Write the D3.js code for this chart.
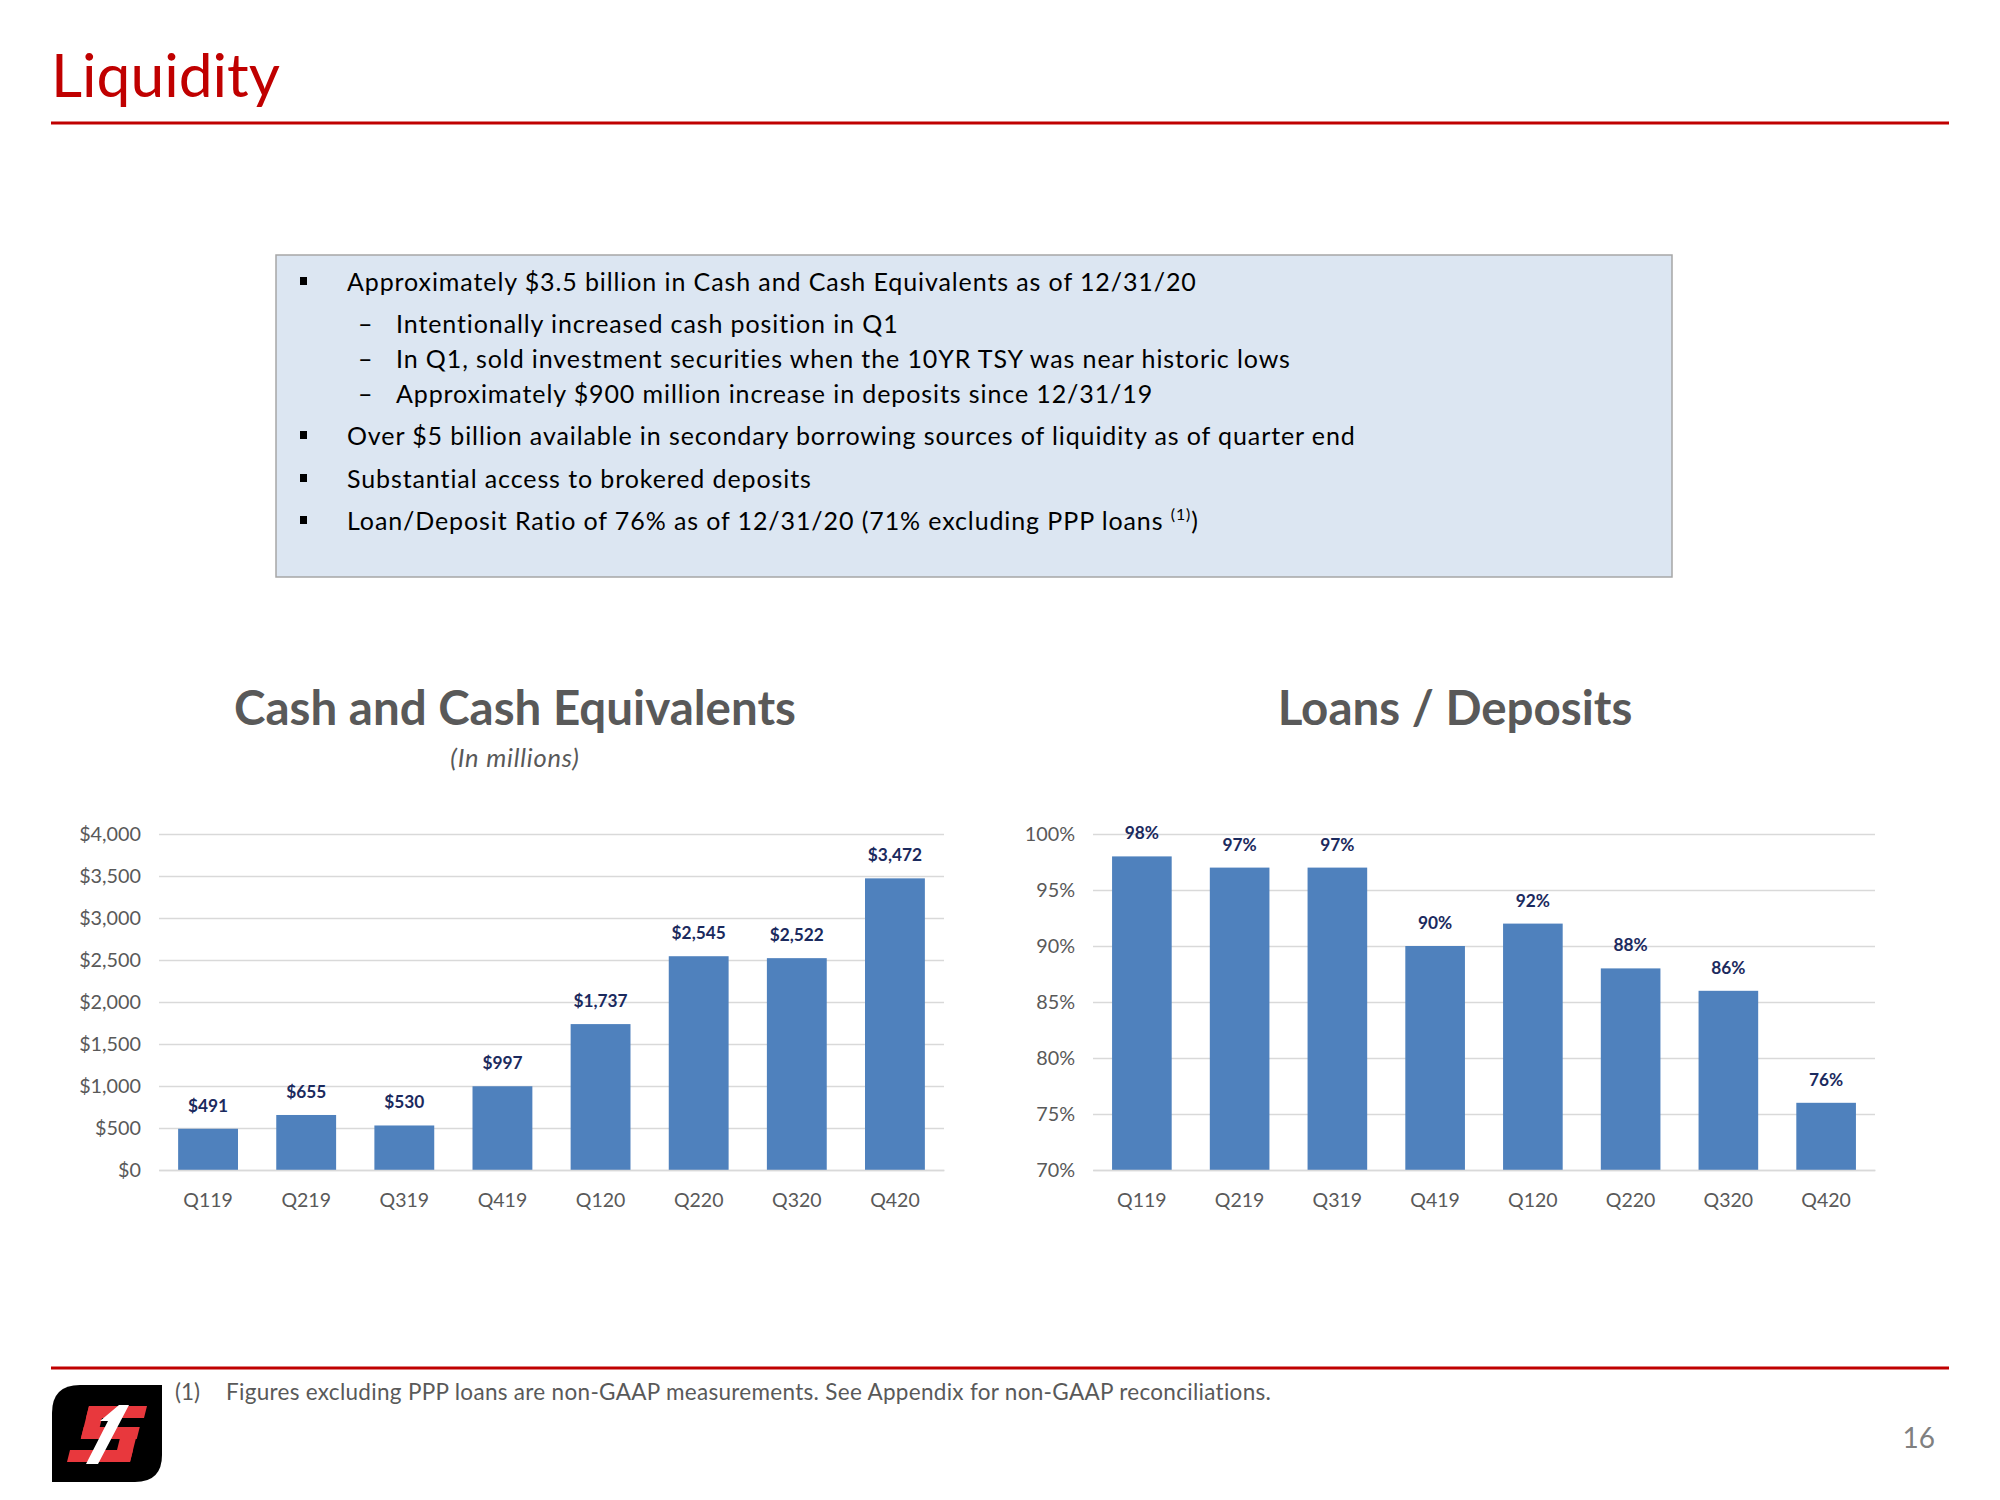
<!DOCTYPE html>
<html>
<head>
<meta charset="utf-8">
<script src="https://cdn.jsdelivr.net/npm/d3@7"></script>
<style>
  html, body { margin: 0; padding: 0; background: #ffffff; }
  svg { display: block; }
  text { font-family: Lato, "Open Sans", sans-serif; }
</style>
</head>
<body>
<svg id="chart" width="2000" height="1500"></svg>
<script>
// ---------- data ----------
const categories = ["Q119", "Q219", "Q319", "Q419", "Q120", "Q220", "Q320", "Q420"];
const cashValues = [491, 655, 530, 997, 1737, 2545, 2522, 3472];
const ratioValues = [98, 97, 97, 90, 92, 88, 86, 76];
const cashTicks = [0, 500, 1000, 1500, 2000, 2500, 3000, 3500, 4000];
const ratioTicks = [70, 75, 80, 85, 90, 95, 100];
const bullets = [
  { level: 0, text: "Approximately $3.5 billion in Cash and Cash Equivalents as of 12/31/20" },
  { level: 1, text: "Intentionally increased cash position in Q1" },
  { level: 1, text: "In Q1, sold investment securities when the 10YR TSY was near historic lows" },
  { level: 1, text: "Approximately $900 million increase in deposits since 12/31/19" },
  { level: 0, text: "Over $5 billion available in secondary borrowing sources of liquidity as of quarter end" },
  { level: 0, text: "Substantial access to brokered deposits" },
  { level: 0, text: "Loan/Deposit Ratio of 76% as of 12/31/20 (71% excluding PPP loans ", sup: "(1)", tail: ")" }
];
const footnote = "Figures excluding PPP loans are non-GAAP measurements. See Appendix for non-GAAP reconciliations.";

// ---------- styles ----------
const RED = "#C00000";
const BAR = "#4F81BD";
const GRID = "#D9D9D9";
const AXIS_TXT = "#595959";
const LABEL = "#1B2A5E";

const svg = d3.select("#chart");

// ---------- header ----------
svg.append("text").attr("x", 51).attr("y", 97)
  .attr("fill", RED).attr("font-size", 60.5).text("Liquidity");
svg.append("line").attr("x1", 51).attr("x2", 1949).attr("y1", 123).attr("y2", 123)
  .attr("stroke", RED).attr("stroke-width", 3);

// ---------- bullet box ----------
svg.append("rect").attr("x", 276).attr("y", 255).attr("width", 1396).attr("height", 322)
  .attr("fill", "#DCE6F2").attr("stroke", "#A6A6A6").attr("stroke-width", 1.5);

const bulletY = [291, 333, 368, 403, 445, 488, 530];
bullets.forEach((b, i) => {
  const y = bulletY[i];
  if (b.level === 0) {
    svg.append("rect").attr("x", 300).attr("y", y - 14).attr("width", 7).attr("height", 8).attr("fill", "#000");
  } else {
    svg.append("text").attr("x", 358).attr("y", y).attr("font-size", 25).attr("fill", "#000").text("\u2013");
  }
  const t = svg.append("text").attr("x", b.level === 0 ? 347 : 396).attr("y", y)
    .attr("font-size", 25).attr("letter-spacing", 0.9).attr("fill", "#000").text(b.text);
  if (b.sup) {
    t.append("tspan").attr("font-size", 16).attr("dy", -10).text(b.sup);
    t.append("tspan").attr("dy", 10).text(b.tail);
  }
});

// ---------- chart helper ----------
function drawChart(opts) {
  const x = d3.scaleBand().domain(categories).range([opts.x0, opts.x1])
    .paddingInner(0.39).paddingOuter(0.195);
  const y = d3.scaleLinear().domain(opts.domain).range([1170, 834]);
  const g = svg.append("g");

  // gridlines
  const yAxis = d3.axisLeft(y).tickValues(opts.ticks).tickSize(-(opts.x1 - opts.x0)).tickFormat(opts.tickFmt).tickPadding(18);
  const ya = g.append("g").attr("transform", `translate(${opts.x0},0)`).call(yAxis);
  ya.select(".domain").remove();
  ya.selectAll(".tick line").attr("stroke", GRID).attr("stroke-width", 1.6);
  ya.selectAll(".tick text").attr("fill", AXIS_TXT).attr("font-size", 19.8).attr("font-family", "Lato, sans-serif");

  // bars
  g.selectAll("rect.bar").data(opts.values).join("rect").attr("class", "bar")
    .attr("x", (d, i) => x(categories[i]))
    .attr("width", x.bandwidth())
    .attr("y", d => y(d))
    .attr("height", d => y(opts.domain[0]) - y(d))
    .attr("fill", BAR);

  // value labels
  g.selectAll("text.val").data(opts.values).join("text").attr("class", "val")
    .attr("x", (d, i) => x(categories[i]) + x.bandwidth() / 2)
    .attr("y", d => y(d) - 17)
    .attr("text-anchor", "middle").attr("font-weight", 700).attr("font-size", 17.3)
    .attr("fill", LABEL).text(opts.labelFmt);

  // x axis
  const xAxis = d3.axisBottom(x).tickSize(0).tickPadding(23);
  const xa = g.append("g").attr("transform", "translate(0,1170)").call(xAxis);
  xa.select(".domain").attr("stroke", GRID).attr("stroke-width", 1.6);
  xa.selectAll(".tick text").attr("fill", AXIS_TXT).attr("font-size", 19.5).attr("font-family", "Lato, sans-serif");

  // title
  svg.append("text").attr("x", opts.titleX).attr("y", 725).attr("text-anchor", "middle")
    .attr("font-weight", 700).attr("font-size", 47.5).attr("fill", "#595959").text(opts.title);
  if (opts.subtitle) {
    svg.append("text").attr("x", opts.titleX).attr("y", 767).attr("text-anchor", "middle")
      .attr("font-style", "italic").attr("font-size", 25.5).attr("letter-spacing", 0.8).attr("fill", "#595959").text(opts.subtitle);
  }
}

const dollar = d3.format(",");
drawChart({
  x0: 159, x1: 944, domain: [0, 4000], ticks: cashTicks, values: cashValues,
  tickFmt: d => "$" + dollar(d), labelFmt: d => "$" + dollar(d),
  title: "Cash and Cash Equivalents", subtitle: "(In millions)", titleX: 515
});
drawChart({
  x0: 1093, x1: 1875, domain: [70, 100], ticks: ratioTicks, values: ratioValues,
  tickFmt: d => d + "%", labelFmt: d => d + "%",
  title: "Loans / Deposits", titleX: 1455
});

// ---------- footer ----------
svg.append("line").attr("x1", 51).attr("x2", 1949).attr("y1", 1368).attr("y2", 1368)
  .attr("stroke", RED).attr("stroke-width", 3);
svg.append("text").attr("x", 175).attr("y", 1400).attr("font-size", 22.5).attr("fill", "#595959").text("(1)");
svg.append("text").attr("x", 226).attr("y", 1400).attr("font-size", 22.5).attr("letter-spacing", 0.3).attr("fill", "#595959").text(footnote);
svg.append("text").attr("x", 1935).attr("y", 1448).attr("text-anchor", "end")
  .attr("font-size", 28).attr("fill", "#808080").text("16");

// logo
const logo = svg.append("g");
logo.append("path")
  .attr("d", "M 80 1385 L 162 1385 L 162 1455 Q 162 1482 135 1482 L 52 1482 L 52 1413 Q 52 1385 80 1385 Z")
  .attr("fill", "#000");
const sG = logo.append("g").attr("transform", "translate(108,1434) skewX(-14) translate(-108,-1434)");
[[82, 1406, 58, 12], [82, 1406, 16, 32], [82, 1427, 56, 12], [121, 1427, 16, 35], [74, 1450, 63, 12]]
  .forEach(r => sG.append("rect").attr("x", r[0]).attr("y", r[1]).attr("width", r[2]).attr("height", r[3]).attr("fill", "#E8383D"));
logo.append("path").attr("d", "M 119 1405 L 129 1405 L 98 1464 L 86 1464 L 108 1421 L 100 1421 Z").attr("fill", "#fff");
</script>
</body>
</html>
